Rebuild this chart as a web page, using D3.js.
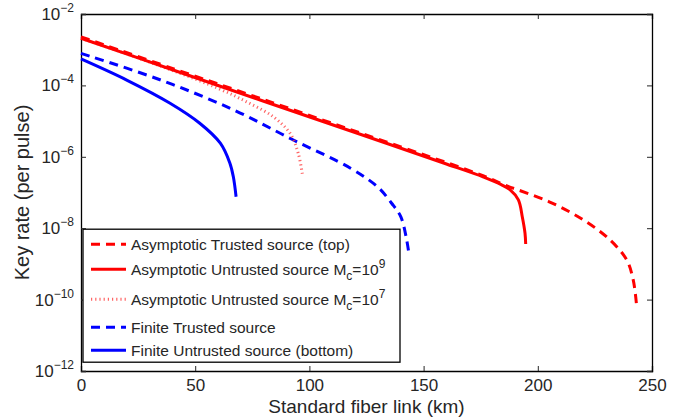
<!DOCTYPE html>
<html>
<head>
<meta charset="utf-8">
<script src="https://cdn.jsdelivr.net/npm/d3@7"></script>
<style>
    body { margin: 0; background: #fff; }
    svg { font-family: "Liberation Sans", Arial, sans-serif; }
</style>
</head>
<body>
<svg id="chart" width="690" height="418"></svg>
<script>
// distances (km) and key rates
let asymTrustedKm = [0, 40, 80, 120, 160, 176, 186, 205, 220, 231.6, 238.9, 241.8, 243.3];
let asymTrustedRate = [2.29e-3, 3.0e-4, 4.0e-5, 5.2e-6, 6.9e-7, 2.95e-7, 1.58e-7, 5.5e-8, 1.7e-8, 4.7e-9, 1.3e-9, 3.5e-10, 6.3e-11];

let asymUntrusted9Km = [0, 40, 80, 120, 160, 176, 184, 187.8, 191.5, 193.2, 194.4, 194.7];
let asymUntrusted9Rate = [2.09e-3, 2.75e-4, 3.6e-5, 4.8e-6, 6.3e-7, 2.75e-7, 1.66e-7, 1.2e-7, 6.2e-8, 2.1e-8, 7.2e-9, 3.6e-9];

let asymUntrusted7Km = [0, 20, 40, 60, 72.5, 84.2, 91.5, 95.1, 97.1];
let asymUntrusted7Rate = [2.09e-3, 7.6e-4, 2.63e-4, 8.3e-5, 3.47e-5, 1.32e-5, 4.6e-6, 1.26e-6, 2.75e-7];

let finiteTrustedKm = [0, 35, 67, 93, 118, 130, 136, 140, 142.6, 143.7];
let finiteTrustedRate = [7.9e-4, 1.41e-4, 2.04e-5, 2.95e-6, 4.8e-7, 1.41e-7, 5.0e-8, 2.1e-8, 4.7e-9, 1.66e-9];

let finiteUntrustedKm = [0, 20, 39, 52, 61, 65.2, 66.7, 67.9];
let finiteUntrustedRate = [5.5e-4, 1.41e-4, 3.16e-5, 8.7e-6, 2.4e-6, 6.6e-7, 2.75e-7, 7.6e-8];

let xTicks = [0, 50, 100, 150, 200, 250];
let yTickExps = [-2, -4, -6, -8, -10, -12];

function zip(xs, ys) {
    return xs.map((x, i) => [x, ys[i]]);
}

let series = [
    {name: "Asymptotic Trusted source (top)", data: zip(asymTrustedKm, asymTrustedRate), color: "#ff0000", dash: "9,6", width: 3},
    {name: "Asymptotic Untrusted source M", sub: "c", tail: "=10", sup: "9", data: zip(asymUntrusted9Km, asymUntrusted9Rate), color: "#ff0000", dash: null, width: 3},
    {name: "Asymptotic Untrusted source M", sub: "c", tail: "=10", sup: "7", data: zip(asymUntrusted7Km, asymUntrusted7Rate), color: "#ff4040", dash: "1.2,3", width: 3, opacity: 0.8},
    {name: "Finite Trusted source", data: zip(finiteTrustedKm, finiteTrustedRate), color: "#0000ff", dash: "9,6", width: 3},
    {name: "Finite Untrusted source (bottom)", data: zip(finiteUntrustedKm, finiteUntrustedRate), color: "#0000ff", dash: null, width: 3}
];

function draw() {
    let svg = d3.select("#chart");
    let margin = {top: 14, right: 38, bottom: 47, left: 81};
    let width = +svg.attr("width") - margin.left - margin.right;
    let height = +svg.attr("height") - margin.top - margin.bottom;
    let g = svg.append("g").attr("transform", `translate(${margin.left},${margin.top})`);

    let x = d3.scaleLinear().domain([0, 250]).range([0, width]);
    let y = d3.scaleLog().domain([1e-12, 1e-2]).range([height, 0]);

    let ink = "#262626";

    // bottom / top axes with inward ticks
    let xAxis = g.append("g")
        .attr("transform", `translate(0,${height})`)
        .call(d3.axisBottom(x).tickValues(xTicks).tickSize(-5).tickPadding(8));
    xAxis.selectAll("text").attr("font-size", 17).attr("fill", ink);
    g.append("g")
        .call(d3.axisTop(x).tickValues(xTicks).tickSize(-5).tickFormat(""));

    let yVals = yTickExps.map(e => Math.pow(10, e));
    g.append("g")
        .call(d3.axisLeft(y).tickValues(yVals).tickSize(-5).tickFormat(""));
    g.append("g")
        .attr("transform", `translate(${width},0)`)
        .call(d3.axisRight(y).tickValues(yVals).tickSize(-5).tickFormat(""));

    g.selectAll(".domain").attr("stroke", "#000").attr("stroke-width", 1.3);
    g.selectAll(".tick line").attr("stroke", ink);

    // y tick labels as 10^n
    yTickExps.forEach(e => {
        let t = g.append("text")
            .attr("x", -7)
            .attr("y", y(Math.pow(10, e)) + 6)
            .attr("text-anchor", "end")
            .attr("fill", ink)
            .attr("font-size", 17);
        t.append("tspan").text("10");
        t.append("tspan").attr("dy", -8).attr("font-size", 12).text("\u2212" + Math.abs(e));
    });

    // curves
    let line = d3.line()
        .x(d => x(d[0]))
        .y(d => y(d[1]))
        .curve(d3.curveCatmullRom.alpha(0.5));

    // draw order: put the dashed trusted line on top of the solid one
    let order = [4, 3, 2, 1, 0];
    for (let i of order) {
        let s = series[i];
        g.append("path")
            .datum(s.data)
            .attr("fill", "none")
            .attr("stroke", s.color)
            .attr("stroke-width", s.width)
            .attr("stroke-dasharray", s.dash)
            .attr("opacity", s.opacity || 1)
            .attr("d", line);
    }

    // legend
    let lg = g.append("g").attr("transform", `translate(2,${y(1e-8) + 1})`);
    lg.append("rect")
        .attr("width", 317).attr("height", 133)
        .attr("fill", "#fff").attr("stroke", "#000").attr("stroke-width", 1.3);
    let rowY = [15, 40, 70, 98, 121];
    series.forEach((s, i) => {
        let yy = rowY[i];
        lg.append("line")
            .attr("x1", 8).attr("x2", 43)
            .attr("y1", yy).attr("y2", yy)
            .attr("stroke", s.color)
            .attr("stroke-width", s.width)
            .attr("stroke-dasharray", s.dash)
            .attr("opacity", s.opacity || 1);
        let t = lg.append("text")
            .attr("x", 48).attr("y", yy + 5.5)
            .attr("font-size", 15.5)
            .attr("fill", ink);
        t.append("tspan").text(s.name);
        if (s.sub) {
            t.append("tspan").attr("dy", 5).attr("font-size", 12).text(s.sub);
            t.append("tspan").attr("dy", -5).text(s.tail);
            t.append("tspan").attr("dy", -7).attr("font-size", 12).text(s.sup);
        }
    });

    // axis titles
    svg.append("text")
        .attr("x", margin.left + width / 2)
        .attr("y", 413)
        .attr("text-anchor", "middle")
        .attr("font-size", 19)
        .attr("fill", ink)
        .text("Standard fiber link (km)");
    svg.append("text")
        .attr("transform", `translate(29,${margin.top + height / 2}) rotate(-90)`)
        .attr("text-anchor", "middle")
        .attr("font-size", 20)
        .attr("fill", ink)
        .text("Key rate (per pulse)");
}

draw();
</script>
</body>
</html>
